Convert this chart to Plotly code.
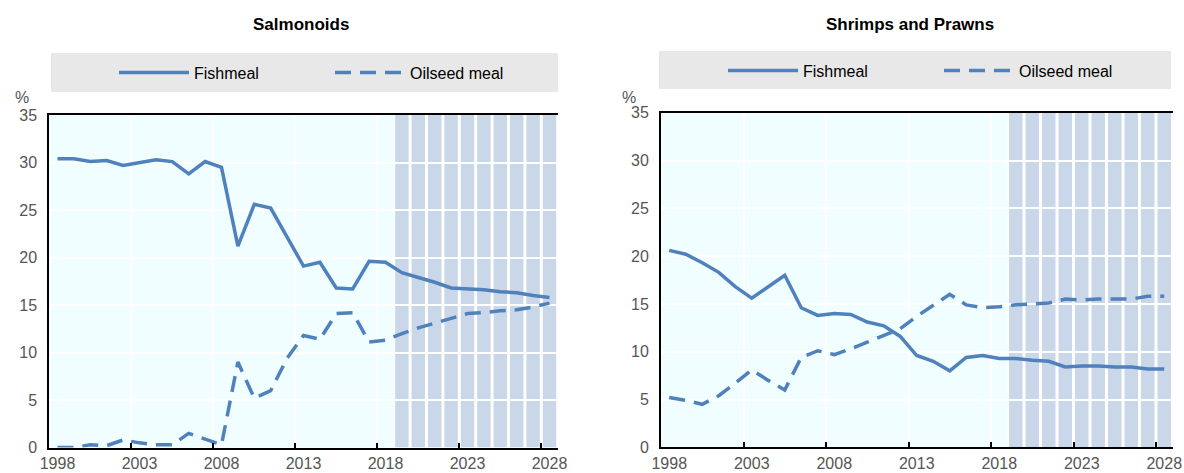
import plotly.graph_objects as go

# ---------------- data ----------------
years = [str(y) for y in range(1998, 2029)]
proj_years = [str(y) for y in range(2019, 2029)]
x_tick_labels = ["1998", "2003", "2008", "2013", "2018", "2023", "2028"]
y_ticks = [0, 5, 10, 15, 20, 25, 30, 35]

salmon_fishmeal = [30.4, 30.4, 30.1, 30.2, 29.7, 30.0, 30.3, 30.1, 28.8, 30.1,
                   29.5, 21.2, 25.6, 25.2, 22.1, 19.1, 19.5, 16.8, 16.7, 19.6,
                   19.5, 18.4, 17.9, 17.4, 16.8, 16.7, 16.6, 16.4, 16.3, 16.0, 15.8]
salmon_oilseed = [0.0, 0.0, 0.3, 0.2, 0.8, 0.5, 0.3, 0.3, 1.5, 0.9,
                  0.3, 9.0, 5.2, 6.0, 9.4, 11.8, 11.4, 14.1, 14.2, 11.1,
                  11.3, 12.0, 12.6, 13.1, 13.6, 14.1, 14.2, 14.4, 14.5, 14.8, 15.2]
shrimp_fishmeal = [20.6, 20.2, 19.3, 18.3, 16.8, 15.6, 16.8, 18.0, 14.6, 13.8,
                   14.0, 13.9, 13.1, 12.7, 11.6, 9.6, 9.0, 8.0, 9.4, 9.6,
                   9.3, 9.3, 9.1, 9.0, 8.4, 8.5, 8.5, 8.4, 8.4, 8.2, 8.2]
shrimp_oilseed = [5.2, 4.9, 4.5, 5.4, 6.7, 8.1, 7.0, 6.0, 9.4, 10.1,
                  9.7, 10.3, 11.0, 11.7, 12.4, 13.7, 14.9, 16.0, 14.9, 14.6,
                  14.7, 14.9, 15.0, 15.1, 15.5, 15.4, 15.5, 15.5, 15.5, 15.8, 15.8]

panel_titles = ["Salmonoids", "Shrimps and Prawns"]
series_names = ["Fishmeal", "Oilseed meal"]

# ---------------- style ----------------
BLUE = "#4F81BD"
TICK_GREY = "#555555"
HIST_BG = "#F0FEFF"
PROJ_BAR = "#C9D7E9"
LEGEND_BG = "#E8E8E8"
FONT = "Liberation Sans, Arial, sans-serif"
W, H = 1184, 473

def px_x(p):
    return p / W

def px_y(p):
    return 1 - p / H

fig = go.Figure()

panels = [
    dict(fish=salmon_fishmeal, oil=salmon_oilseed, xa="x", ya="y",
         xdom=[px_x(49.3), px_x(557.7)], ydom=[px_y(447.6), px_y(115)],
         legend="legend", box=[51, 53, 558, 92], leg_x=px_x(114), leg_y=px_y(72.5),
         title_x=px_x(301), pct_x=px_x(22)),
    dict(fish=shrimp_fishmeal, oil=shrimp_oilseed, xa="x2", ya="y2",
         xdom=[px_x(661), px_x(1172.5)], ydom=[px_y(447.3), px_y(112.7)],
         legend="legend2", box=[659, 51, 1171, 89], leg_x=px_x(723), leg_y=px_y(70.5),
         title_x=px_x(910), pct_x=px_x(629)),
]

shapes = []
annotations = []
for i, p in enumerate(panels):
    fig.add_trace(go.Scatter(
        x=years, y=p["fish"], name=series_names[0], mode="lines",
        line=dict(color=BLUE, width=3.5), xaxis=p["xa"], yaxis=p["ya"],
        legend=p["legend"]))
    fig.add_trace(go.Scatter(
        x=years, y=p["oil"], name=series_names[1], mode="lines",
        line=dict(color=BLUE, width=3.5, dash="16px,9px"), xaxis=p["xa"], yaxis=p["ya"],
        legend=p["legend"]))

    xref = p["xa"]
    yref = p["ya"]
    first_proj = years.index(proj_years[0])
    shapes.append(dict(type="rect", xref=xref, yref=yref, layer="below",
                       x0=-0.5, x1=first_proj - 0.5, y0=y_ticks[0], y1=y_ticks[-1],
                       fillcolor=HIST_BG, line=dict(width=0)))
    for yr in proj_years:
        k = years.index(yr)
        shapes.append(dict(type="rect", xref=xref, yref=yref, layer="below",
                           x0=k - 0.41, x1=k + 0.41, y0=y_ticks[0], y1=y_ticks[-1],
                           fillcolor=PROJ_BAR, line=dict(width=0)))
    bx0, by0, bx1, by1 = p["box"]
    shapes.append(dict(type="rect", xref="paper", yref="paper", layer="below",
                       x0=px_x(bx0), x1=px_x(bx1), y0=px_y(by1), y1=px_y(by0),
                       fillcolor=LEGEND_BG, line=dict(width=0)))
    annotations.append(dict(text="<b>" + panel_titles[i] + "</b>", xref="paper", yref="paper",
                            x=p["title_x"], y=px_y(24), xanchor="center", yanchor="middle",
                            showarrow=False, font=dict(family=FONT, size=17, color="#000000")))
    annotations.append(dict(text="%", xref="paper", yref="paper",
                            x=p["pct_x"], y=px_y(97), xanchor="center", yanchor="middle",
                            showarrow=False, font=dict(family=FONT, size=16, color=TICK_GREY)))

    xkey = "xaxis" if i == 0 else "xaxis2"
    ykey = "yaxis" if i == 0 else "yaxis2"
    fig.layout[xkey] = dict(
        type="category", domain=p["xdom"], anchor=yref, automargin=False,
        range=[-0.5, len(years) - 0.5],
        tickmode="linear", tick0=0, dtick=5, tickson="boundaries", tickangle=0,
        ticks="inside", ticklen=5, tickwidth=2, tickcolor="#000000",
        showline=True, linecolor="#000000", linewidth=2, mirror=True,
        showgrid=True, gridcolor="#FFFFFF", gridwidth=1.5,
        tickfont=dict(family=FONT, size=16, color=TICK_GREY),
        fixedrange=True)
    fig.layout[ykey] = dict(
        domain=p["ydom"], anchor=xref, automargin=False, range=[y_ticks[0], y_ticks[-1]],
        tickmode="array", tickvals=y_ticks,
        ticks="outside", ticklen=7, tickcolor="rgba(0,0,0,0)",
        showline=True, linecolor="#000000", linewidth=2,
        showgrid=True, gridcolor="#FFFFFF", gridwidth=2, zeroline=False,
        tickfont=dict(family=FONT, size=16, color=TICK_GREY),
        fixedrange=True)
    leg = dict(orientation="h", xref="container", yref="container",
               x=p["leg_x"], y=p["leg_y"], xanchor="left", yanchor="middle",
               bgcolor="rgba(0,0,0,0)", itemwidth=70, entrywidth=131, entrywidthmode="pixels",
               font=dict(family=FONT, size=16, color="#000000"))
    fig.layout[p["legend"]] = leg

fig.update_layout(
    width=W, height=H,
    margin=dict(l=0, r=0, t=0, b=0, autoexpand=False),
    paper_bgcolor="#FFFFFF", plot_bgcolor="#FFFFFF",
    shapes=shapes, annotations=annotations,
    font=dict(family=FONT),
)

fig.write_html("out.html", config={"displayModeBar": False},
               post_script="document.body.style.margin='0px';")
